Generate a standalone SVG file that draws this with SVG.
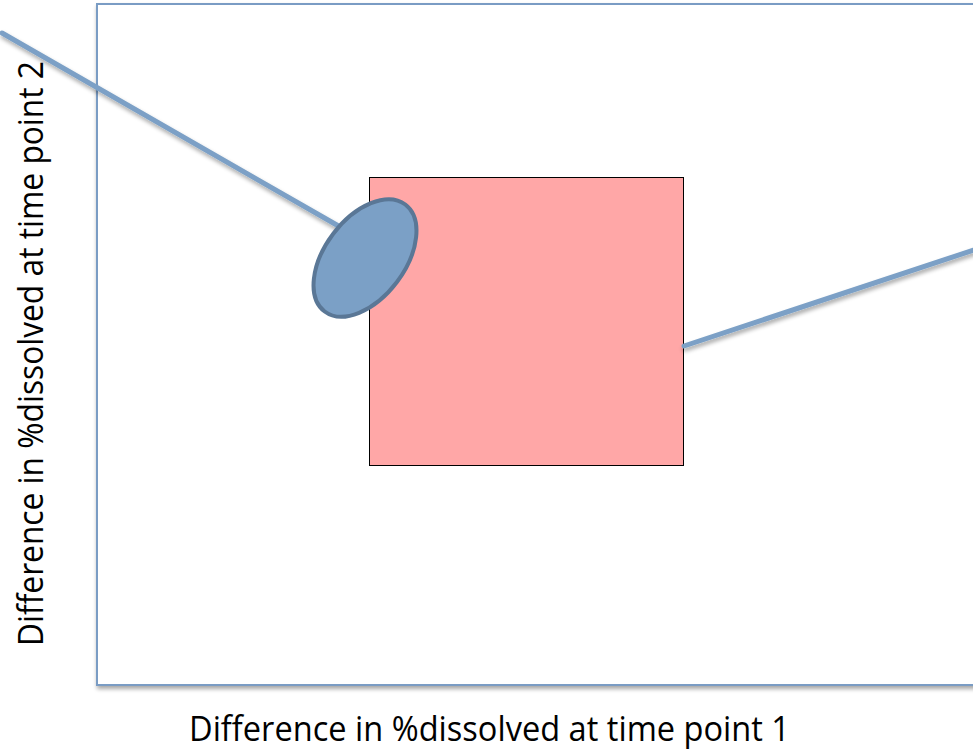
<svg xmlns="http://www.w3.org/2000/svg" width="973" height="754" viewBox="0 0 973 754">
<defs>
<filter id="sh" x="-10%" y="-10%" width="120%" height="130%">
<feGaussianBlur in="SourceAlpha" stdDeviation="2"/>
<feOffset dx="1" dy="3" result="b"/>
<feComponentTransfer><feFuncA type="linear" slope="0.35"/></feComponentTransfer>
<feMerge><feMergeNode/><feMergeNode in="SourceGraphic"/></feMerge>
</filter>
</defs>
<style>
.lbl{font-family:"Open Sans","Liberation Sans",sans-serif;font-size:34px;fill:#000}
.conn{stroke:#7BA0C6;stroke-width:5;fill:none;stroke-linecap:round}
</style>
<rect width="973" height="754" fill="#fff"/>
<g id="frame"><rect x="97" y="4" width="900" height="681" fill="#fff" stroke="#7A9CC4" stroke-width="2" filter="url(#sh)"/></g>
<g id="region"><rect x="369.5" y="177.5" width="314" height="288" fill="#FFA7A7" stroke="#000" stroke-width="1"/></g>
<g id="connectors" filter="url(#sh)">
<line class="conn" x1="2" y1="33" x2="342" y2="228"/>
<line class="conn" x1="684" y1="346" x2="980" y2="248"/>
</g>
<g id="point"><ellipse cx="365" cy="258" rx="67" ry="40" transform="rotate(-53 365 258)" fill="#7BA0C6" stroke="#5A7796" stroke-width="4"/></g>
<g id="xlabel"><text class="lbl" x="189" y="741" textLength="601" lengthAdjust="spacingAndGlyphs">Difference in %dissolved at time point 1</text></g>
<g id="ylabel"><text class="lbl" transform="translate(43 646) rotate(-90)" x="0" y="0" textLength="585" lengthAdjust="spacingAndGlyphs">Difference in %dissolved at time point 2</text></g>
</svg>
